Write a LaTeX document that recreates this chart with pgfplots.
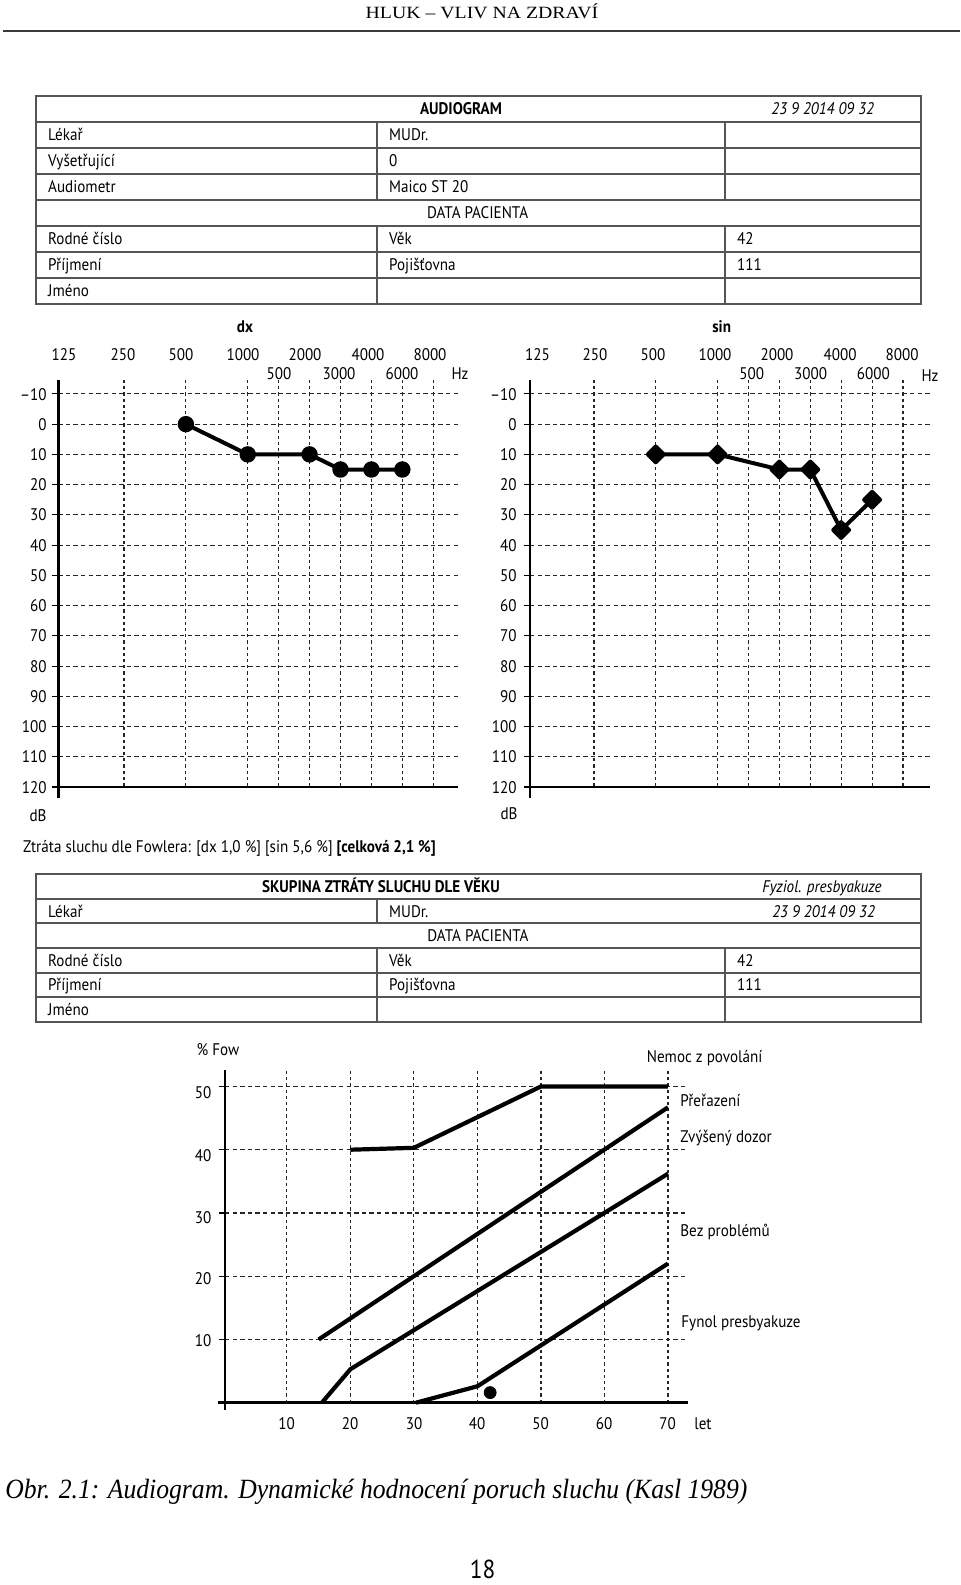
\documentclass[border=0pt]{standalone}
\usepackage{pgfplots}
\pgfplotsset{compat=1.18}
\usepackage{fontspec}
\setmainfont{PT Sans}[FakeStretch=0.9]
\newfontfamily\headfont{Liberation Serif}[FakeStretch=1.15]
\newfontfamily\capfont{Liberation Serif}[FakeStretch=0.92]
\definecolor{tablegray}{RGB}{85,85,85}
\newcommand\fs{\fontsize{8.4pt}{10pt}\selectfont}

% common look of the three grids
\pgfplotsset{
  chart/.style={
    scale only axis, clip=false,
    axis line style={draw=none},
    xticklabels={}, yticklabels={},
    grid=major,
    x grid style={black!85, line width=0.55pt, dash pattern=on 1.6pt off 1.5pt},
    y grid style={black!85, line width=0.55pt, dash pattern=on 2.2pt off 1.6pt},
    xtick style={draw=none},
    ytick style={black, line width=0.55pt},
    tick align=outside, major tick length=3pt, ytick pos=left,
  },
  audio/.style={
    chart, width=200pt, height=203.5pt,
    ymin=-14.6, ymax=120, y dir=reverse,
    xtick={1,2,3,3.5,4,4.5,5,5.5,6},
    ytick={-10,0,...,110},
  },
}

\begin{document}
\begin{tikzpicture}
\begin{scope}[x=0.5pt,y=-0.5pt,
  every node/.style={font=\fs, inner sep=0pt},
  L/.style={anchor=base west}, C/.style={anchor=base}, R/.style={anchor=base east},
  tl/.style={draw=tablegray, line width=1pt}]
\path[use as bounding box] (0,0) rectangle (960,1585);

% page header
\node[C, font=\headfont\fontsize{8.6pt}{10pt}\selectfont] at (482,18.6) {HLUK – VLIV NA ZDRAVÍ};
\draw[tablegray!70!black, line width=1pt] (3,30.7) -- (960,30.7);

% ---- table 1 ----
\draw[tl] (35.5,95.7) rectangle (921,303.7);
\foreach \y in {121.7,147.7,173.7,199.7,225.7,251.7,277.7}
  \draw[tl] (35.5,\y) -- (921,\y);
\foreach \x in {376.6,725}{
  \draw[tl] (\x,121.7) -- (\x,199.7);
  \draw[tl] (\x,225.7) -- (\x,303.7);}
\node[C] at (461,114.7) {\bfseries AUDIOGRAM};
\node[C] at (822.7,114.7) {\itshape 23 9 2014 09 32};
\node[L] at (47.8,140.7) {Lékař};       \node[L] at (388.8,140.7) {MUDr.};
\node[L] at (47.8,166.7) {Vyšetřující}; \node[L] at (388.8,166.7) {0};
\node[L] at (47.8,192.7) {Audiometr};   \node[L] at (388.8,192.7) {Maico ST 20};
\node[C] at (477.6,218.7) {DATA PACIENTA};
\node[L] at (47.8,244.7) {Rodné číslo}; \node[L] at (388.8,244.7) {Věk};        \node[L] at (736.7,244.7) {42};
\node[L] at (47.8,270.7) {Příjmení};    \node[L] at (388.8,270.7) {Pojišťovna}; \node[L] at (736.7,270.7) {111};
\node[L] at (47.8,296.7) {Jméno};

% ---- audiogram labels ----
\node[C] at (245,332.7) {\bfseries dx};
\node[C] at (721.7,332.7) {\bfseries sin};
\foreach \x/\t in {64/125,123/250,181/500,243/1000,305/2000,368/4000,430/8000}
  \node[C] at (\x,360.3) {\t};
\foreach \x/\t in {279/500,339/3000,402/6000,460/Hz}
  \node[C] at (\x,379.3) {\t};
\foreach \x/\t in {537.5/125,595/250,653/500,715/1000,777/2000,840/4000,902/8000}
  \node[C] at (\x,360.3) {\t};
\foreach \x/\t in {751.7/500,810.7/3000,873.3/6000}
  \node[C] at (\x,379.3) {\t};
\node[C] at (930,381) {Hz};
\foreach \i/\t in {0/–10,1/0,2/10,3/20,4/30,5/40,6/50,7/60,8/70,9/80,10/90,11/100,12/110,13/120}{
  \node[R] at (47,394+30.23*\i+6) {\t};
  \node[R] at (517,394+30.23*\i+6) {\t};}
\node[C] at (38,821) {dB};
\node[C] at (509,819) {dB};
\node[L] at (22.7,852) {Ztráta sluchu dle Fowlera: [dx 1,0 \%] [sin 5,6 \%] \textbf{[celková 2,1 \%]}};

% ---- table 2 ----
\draw[tl] (35.5,874.3) rectangle (921,1021.6);
\foreach \y in {898.85,923.4,947.95,972.5,997.05}
  \draw[tl] (35.5,\y) -- (921,\y);
\draw[tl] (376.6,898.85) -- (376.6,923.4);
\draw[tl] (376.6,947.95) -- (376.6,1021.6);
\draw[tl] (725,947.95) -- (725,1021.6);
\node[C] at (381,892.6) {\bfseries SKUPINA ZTRÁTY SLUCHU DLE VĚKU};
\node[C] at (822,892.6) {\itshape Fyziol. presbyakuze};
\node[L] at (47.8,917.1) {Lékař}; \node[L] at (388.8,917.1) {MUDr.};
\node[C] at (823.6,917.1) {\itshape 23 9 2014 09 32};
\node[C] at (478,941.7) {DATA PACIENTA};
\node[L] at (47.8,966.2) {Rodné číslo}; \node[L] at (388.8,966.2) {Věk};        \node[L] at (736.7,966.2) {42};
\node[L] at (47.8,990.8) {Příjmení};    \node[L] at (388.8,990.8) {Pojišťovna}; \node[L] at (736.7,990.8) {111};
\node[L] at (47.8,1015.3) {Jméno};

% ---- age chart labels ----
\node[C] at (218,1055) {\% Fow};
\foreach \y/\t in {1098/50,1161/40,1223/30,1284/20,1346.7/10}
  \node[R] at (211.7,\y) {\t};
\foreach \x/\t in {286.7/10,350/20,414/30,477/40,540.7/50,604/60,667.7/70}
  \node[C] at (\x,1429) {\t};
\node[C] at (703,1429) {let};
\node[C] at (704.6,1062.7) {Nemoc z povolání};
\node[L] at (680,1106) {Přeřazení};
\node[L] at (680,1142.7) {Zvýšený dozor};
\node[L] at (680,1236) {Bez problémů};
\node[L] at (681,1327.7) {Fynol presbyakuze};

% caption and page number
\node[L] at (5,1498) {\resizebox{371pt}{!}{\capfont\itshape\fontsize{13pt}{15pt}\selectfont Obr. 2.1: Audiogram. Dynamické hodnocení poruch sluchu (Kasl 1989)}};
\node[C, font=\fontsize{13pt}{15pt}\selectfont] at (482.5,1578) {18};
\end{scope}

% ---- right ear (dx) ----
\begin{axis}[audio, at={(29.15pt,-190pt)}, anchor=north west,
  xmin=-0.063, xmax=6.405]
\draw[line width=1.4pt] (axis cs:-0.063,-14.6) -- (axis cs:-0.063,123.6);
\draw[line width=1.4pt] (axis cs:-0.165,120) -- (axis cs:6.405,120);
\addplot[black, line width=2pt, line join=round, mark=*, mark size=3.1pt]
  coordinates {(2,0) (3,10) (4,10) (4.5,15) (5,15) (5.5,15)};
\end{axis}

% ---- left ear (sin) ----
\begin{axis}[audio, at={(265pt,-190pt)}, anchor=north west,
  xmin=-0.036, xmax=6.437]
\draw[line width=1.4pt] (axis cs:-0.036,-14.6) -- (axis cs:-0.036,123.6);
\draw[line width=1.4pt] (axis cs:-0.13,120) -- (axis cs:6.437,120);
\addplot[black, line width=2pt, line join=round, mark=square*, mark size=2.8pt,
  mark options={rotate=45}]
  coordinates {(2,10) (3,10) (4,15) (4.5,15) (5,35) (5.5,25)};
\end{axis}

% ---- hearing loss group by age ----
\begin{axis}[chart, at={(112.5pt,-701.35pt)}, anchor=south west,
  width=231.5pt, height=166.35pt,
  xmin=0.25, xmax=73.15, ymin=0, ymax=52.6,
  xtick={10,20,...,70}, ytick={10,20,...,50}]
\draw[line width=1.4pt] (axis cs:0.25,52.6) -- (axis cs:0.25,-1.1);
\draw[line width=1.4pt] (axis cs:-0.85,0) -- (axis cs:73.15,0);
\addplot[black, line width=2.1pt] coordinates {(20,40) (30,40.3) (50,50) (70,50)};
\addplot[black, line width=2.1pt] coordinates {(15,10) (70,46.7)};
\addplot[black, line width=2.1pt] coordinates {(15.5,0) (20,5.3) (70,36.2)};
\addplot[black, line width=2.1pt] coordinates {(30.3,0) (40,2.6) (70,22)};
\addplot[black, only marks, mark=*, mark size=3pt] coordinates {(42,1.6)};
\end{axis}
\end{tikzpicture}
\end{document}
